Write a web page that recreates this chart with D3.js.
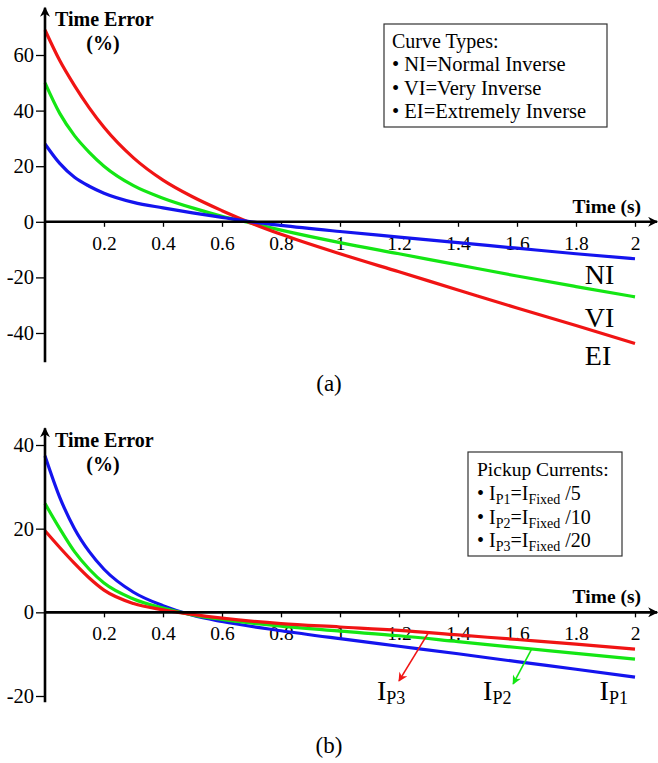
<!DOCTYPE html>
<html>
<head>
<meta charset="utf-8">
<script src="https://cdn.jsdelivr.net/npm/d3@7"></script>
<style>
  html, body { margin: 0; padding: 0; background: #fff; }
  svg { display: block; font-family: "Liberation Serif", "Times New Roman", serif; }
</style>
</head>
<body>
<svg id="chart" width="658" height="763"></svg>
<script>
// ---------- DATA ----------
const timeValues = [0, 0.05, 0.1, 0.15, 0.2, 0.3, 0.4, 0.5, 0.6, 0.7, 0.8, 1.0, 1.2, 1.4, 1.6, 1.8, 2.0];
// Panel (a): curve types
const seriesNI = [28, 21, 16, 12.8, 10.3, 7, 5, 3.2, 1.6, 0, -1.3, -3.5, -5.5, -7.5, -9.5, -11.5, -13.3];
const seriesVI = [50, 39, 31, 25, 20, 13, 8.5, 5, 2, -0.5, -3, -7.5, -11.5, -15.5, -19.5, -23.3, -27];
const seriesEI = [69, 58, 49, 41, 34, 23, 15, 9, 4, -0.5, -4.5, -11.5, -18, -24.5, -31, -37.3, -43.8];

const timeValuesB = [0, 0.05, 0.1, 0.15, 0.2, 0.3, 0.4, 0.5, 0.6, 0.8, 1.0, 1.2, 1.4, 1.6, 1.8, 2.0];
// Panel (b): pickup currents
const seriesIP1 = [37.4, 27.5, 20, 14.5, 10.3, 4.8, 1.6, -0.7, -2.2, -4.4, -6.3, -8.1, -9.9, -11.8, -13.6, -15.5];
const seriesIP2 = [26, 20, 14.5, 10.3, 7, 3.2, 1.0, -0.6, -1.7, -3.3, -4.5, -5.6, -7, -8.4, -9.8, -11.2];
const seriesIP3 = [19.5, 15.5, 11.7, 8.2, 5.3, 2.1, 0.6, -0.5, -1.4, -2.7, -3.5, -4.3, -5.4, -6.5, -7.6, -8.8];

const xTicks = [0.2, 0.4, 0.6, 0.8, 1, 1.2, 1.4, 1.6, 1.8, 2];
const xTickLabels = ["0.2", "0.4", "0.6", "0.8", "1", "1.2", "1.4", "1.6", "1.8", "2"];
const yTicksA = [-40, -20, 0, 20, 40, 60];
const yTickLabelsA = ["-40", "-20", "0", "20", "40", "60"];
const yTicksB = [-20, 0, 20, 40];
const yTickLabelsB = ["-20", "0", "20", "40"];

const legendA = ["Curve Types:", "NI=Normal Inverse", "VI=Very Inverse", "EI=Extremely Inverse"];
const curveLabelsA = ["NI", "VI", "EI"];
const legendBTitle = "Pickup Currents:";
const legendBSubs = ["P1", "P2", "P3"];
const legendBDivs = ["/5", "/10", "/20"];

// ---------- SETUP ----------
const svg = d3.select("#chart");
const RED = "#f01414", GREEN = "#14e614", BLUE = "#1414ee";
const x = d3.scaleLinear().domain([0, 2]).range([45, 635]);

const defs = svg.append("defs");
function marker(id, color, w, h) {
  defs.append("marker").attr("id", id).attr("viewBox", "0 0 10 10")
    .attr("refX", 9).attr("refY", 5).attr("markerWidth", w).attr("markerHeight", h)
    .attr("markerUnits", "userSpaceOnUse").attr("orient", "auto")
    .append("path").attr("d", "M0,0 L10,5 L0,10 L3,5 Z").attr("fill", color);
}
marker("arrK", "#000", 12, 10);
marker("arrR", RED, 10, 9);
marker("arrG", GREEN, 10, 9);

function drawPanel(cfg) {
  const g = svg.append("g");
  const y = cfg.y;
  // x ticks
  const xAxis = d3.axisBottom(x).tickValues(xTicks)
    .tickFormat((d, i) => xTickLabels[i]).tickSize(5).tickPadding(9);
  const gx = g.append("g").attr("transform", `translate(0,${y(0)})`).call(xAxis);
  gx.select(".domain").remove();
  gx.selectAll("line").attr("stroke", "#000").attr("stroke-width", 1.3);
  gx.selectAll("text").attr("font-size", 19.5).attr("fill", "#000")
    .attr("font-family", "Liberation Serif, serif");
  // y ticks
  const yAxis = d3.axisLeft(y).tickValues(cfg.yTicks)
    .tickFormat((d, i) => cfg.yLabels[i]).tickSize(9).tickPadding(2);
  const gy = g.append("g").attr("transform", `translate(${x(0)},0)`).call(yAxis);
  gy.select(".domain").remove();
  gy.selectAll("line").attr("stroke", "#000").attr("stroke-width", 1.3);
  gy.selectAll("text").attr("font-size", 20.5).attr("fill", "#000")
    .attr("font-family", "Liberation Serif, serif");

  // curves
  const line = d3.line().x(d => x(d[0])).y(d => y(d[1])).curve(d3.curveMonotoneX);
  cfg.series.forEach(s => {
    g.append("path").datum(cfg.t.map((t, i) => [t, s.v[i]]))
      .attr("d", line).attr("fill", "none").attr("stroke", s.color)
      .attr("stroke-width", 3.2).attr("stroke-linejoin", "round");
  });

  // main axes with arrows
  g.append("line").attr("x1", x(0)).attr("x2", x(0))
    .attr("y1", y(cfg.yBottom)).attr("y2", y(cfg.yTop))
    .attr("stroke", "#000").attr("stroke-width", 2.6).attr("marker-end", "url(#arrK)");
  g.append("line").attr("x1", x(0)).attr("x2", x(2.075))
    .attr("y1", y(0)).attr("y2", y(0))
    .attr("stroke", "#000").attr("stroke-width", 2.6).attr("marker-end", "url(#arrK)");

  // axis titles
  g.append("text").attr("x", x(0) + 10).attr("y", cfg.titleY)
    .attr("font-size", 20).attr("font-weight", "bold").text("Time Error");
  g.append("text").attr("x", x(0) + 58).attr("y", cfg.titleY + 24)
    .attr("font-size", 20).attr("font-weight", "bold").attr("text-anchor", "middle").text("(%)");
  g.append("text").attr("x", 641).attr("y", y(0) - 9)
    .attr("font-size", 19.5).attr("font-weight", "bold").attr("text-anchor", "end").text("Time (s)");

  // panel label
  g.append("text").attr("x", 329).attr("y", cfg.panelY).attr("font-size", 23)
    .attr("text-anchor", "middle").text(cfg.panelLabel);
  return g;
}

// ---------- PANEL (a) ----------
const yA = d3.scaleLinear().domain([-40, 60]).range([333, 55]);
const gA = drawPanel({
  y: yA, yTicks: yTicksA, yLabels: yTickLabelsA, yBottom: -50.5, yTop: 77,
  t: timeValues,
  series: [
    { v: seriesVI, color: GREEN },
    { v: seriesEI, color: RED },
    { v: seriesNI, color: BLUE }
  ],
  titleY: 26, panelY: 391, panelLabel: "(a)"
});
// legend (a)
gA.append("rect").attr("x", 384).attr("y", 24).attr("width", 223).attr("height", 103)
  .attr("fill", "#fff").attr("stroke", "#333").attr("stroke-width", 1.2);
legendA.forEach((s, i) => {
  gA.append("text").attr("x", 392).attr("y", 48 + i * 23.3)
    .attr("font-size", i === 0 ? 20 : 20.5)
    .text(i === 0 ? s : "\u2022 " + s);
});
// curve labels (a)
const labelValsA = [-22.5, -38, -51.5];
curveLabelsA.forEach((s, i) => {
  gA.append("text").attr("x", x(1.83)).attr("y", yA(labelValsA[i])).attr("font-size", 28).text(s);
});

// ---------- PANEL (b) ----------
const yB = d3.scaleLinear().domain([-20, 40]).range([696, 445]);
const gB = drawPanel({
  y: yB, yTicks: yTicksB, yLabels: yTickLabelsB, yBottom: -21.5, yTop: 44,
  t: timeValuesB,
  series: [
    { v: seriesIP1, color: BLUE },
    { v: seriesIP2, color: GREEN },
    { v: seriesIP3, color: RED }
  ],
  titleY: 447, panelY: 753, panelLabel: "(b)"
});
// legend (b)
gB.append("rect").attr("x", 468).attr("y", 452).attr("width", 154).attr("height", 104)
  .attr("fill", "#fff").attr("stroke", "#333").attr("stroke-width", 1.2);
gB.append("text").attr("x", 477).attr("y", 476).attr("font-size", 19.5).text(legendBTitle);
legendBSubs.forEach((sub, i) => {
  const t = gB.append("text").attr("x", 477).attr("y", 500 + i * 23.5).attr("font-size", 20);
  t.append("tspan").text("\u2022 I");
  t.append("tspan").attr("font-size", 14).attr("dy", 4).text(sub);
  t.append("tspan").attr("dy", -4).text("=I");
  t.append("tspan").attr("font-size", 14).attr("dy", 4).text("Fixed");
  t.append("tspan").attr("dy", -4).text(" " + legendBDivs[i]);
});
// arrows (b)
const lineAt = (ts, vs, t) => {
  const i = ts.findIndex(v => v >= t);
  const f = (t - ts[i - 1]) / (ts[i] - ts[i - 1]);
  return vs[i - 1] + f * (vs[i] - vs[i - 1]);
};
const arrowsB = [
  { t0: 1.3, v: seriesIP3, t1: 1.2, v1: -16.4, color: RED, m: "arrR" },
  { t0: 1.65, v: seriesIP2, t1: 1.587, v1: -17.1, color: GREEN, m: "arrG" }
];
arrowsB.forEach(a => {
  gB.append("line").attr("x1", x(a.t0)).attr("y1", yB(lineAt(timeValuesB, a.v, a.t0)))
    .attr("x2", x(a.t1)).attr("y2", yB(a.v1))
    .attr("stroke", a.color).attr("stroke-width", 1.6).attr("marker-end", `url(#${a.m})`);
});
// curve labels (b)
const labelPosB = [[1.88, "P1"], [1.485, "P2"], [1.125, "P3"]];
labelPosB.forEach(p => {
  const t = gB.append("text").attr("x", x(p[0])).attr("y", 700).attr("font-size", 28);
  t.append("tspan").text("I");
  t.append("tspan").attr("font-size", 18).attr("dy", 4).text(p[1]);
});
</script>
</body>
</html>
